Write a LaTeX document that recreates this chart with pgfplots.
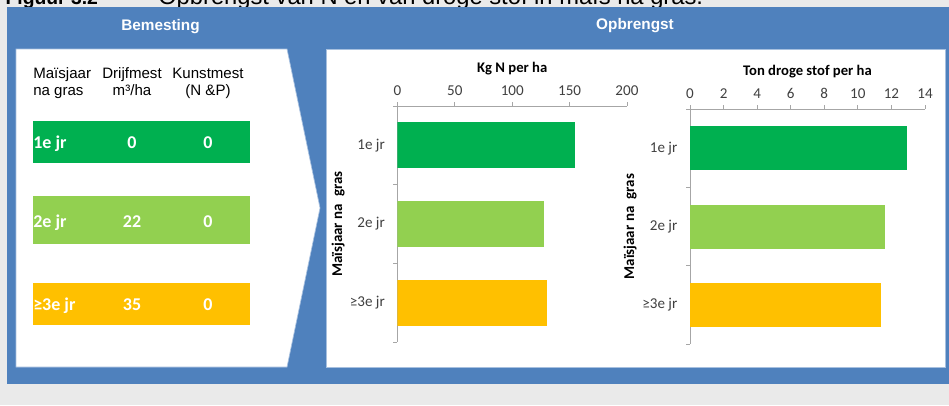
\documentclass[border=0pt]{standalone}
\usepackage{fontspec}
\setmainfont{Carlito}
\newfontfamily\arialf{Liberation Sans}
\usepackage{pgfplots}
\pgfplotsset{compat=1.18}

\definecolor{frameblue}{HTML}{4F81BD}
\definecolor{edgeblue}{HTML}{A7C0DF}
\definecolor{bggray}{HTML}{EAEAEA}
\definecolor{jr1}{HTML}{00B050}
\definecolor{jr2}{HTML}{92D050}
\definecolor{jr3}{HTML}{FFC000}
\definecolor{axgray}{HTML}{A6A6A6}
\definecolor{txt}{HTML}{404040}

% common look of the two bar charts
\pgfplotsset{opbr/.style={
    scale only axis,
    xbar, bar shift=0pt,
    ymin=-0.5, ymax=2.5, y dir=reverse,
    ytick={-0.5,0.5,1.5,2.5}, yticklabels={},
    extra y ticks={0,1,2},
    extra y tick labels={1e jr,2e jr,≥3e jr},
    extra y tick style={tick style={draw=none}},
    axis x line*=top, axis y line*=left,
    axis line style={draw=axgray,-,line width=0.6pt},
    tick align=outside,
    major tick length=3pt,
    tick style={draw=axgray, line width=0.6pt},
    tick label style={font=\fontsize{11.3}{13}\selectfont, text=txt},
    x tick label style={yshift=1.5pt},
    y tick label style={xshift=-3pt},
    /pgf/number format/assume math mode=true,
    title style={font=\bfseries\fontsize{11}{13}\selectfont, anchor=center},
    ylabel style={font=\bfseries\fontsize{11.2}{13}\selectfont, anchor=center},
}}

\begin{document}
\begin{tikzpicture}
\fill[bggray] (0,0) rectangle (711.75pt,-303.75pt);

% caption, cut off at the top of the screenshot
\begin{scope}[overlay]
\node[anchor=base west, inner sep=0, font=\arialf\bfseries\fontsize{14.5}{17}\selectfont] at (4pt,-3pt) {Figuur 3.2};
\node[anchor=base, inner sep=0, font=\arialf\fontsize{17.8}{20}\selectfont] at (96pt,-3pt) {–};
\node[anchor=base west, inner sep=0, font=\arialf\fontsize{17.8}{20}\selectfont] at (118.5pt,-3pt) {Opbrengst van N en van droge stof in maïs na gras.};
\end{scope}

\begin{scope}[x=0.75pt, y=-0.75pt]
  \fill[frameblue] (7,7) rectangle (949,384);
  \filldraw[fill=white, draw=edgeblue, line width=0.5pt]
    (16,49) -- (287,49) -- (320,208) -- (287,367) -- (16,367) -- cycle;
  \filldraw[fill=white, draw=edgeblue, line width=0.5pt] (326,49) rectangle (945,367);

  \node[anchor=base, inner sep=0, text=white, font=\arialf\bfseries\fontsize{11.5}{13}\selectfont] at (160.5,30) {Bemesting};
  \node[anchor=base, inner sep=0, text=white, font=\arialf\bfseries\fontsize{11.5}{13}\selectfont] at (635,29) {Opbrengst};

  % table headers
  \begin{scope}[every node/.style={inner sep=0, font=\arialf\fontsize{11.3}{13}\selectfont}]
    \node[anchor=base west] at (33,78) {Maïsjaar};
    \node[anchor=base west] at (33,95) {na gras};
    \node[anchor=base] at (132,78) {Drijfmest};
    \node[anchor=base] at (132,95) {m³/ha};
    \node[anchor=base] at (208,78) {Kunstmest};
    \node[anchor=base] at (208,95) {(N \&P)};
  \end{scope}

  % table rows
  \fill[jr1] (33,121) rectangle (250,163);
  \fill[jr2] (33,196) rectangle (250,244);
  \fill[jr3] (33,283) rectangle (250,325);
  \begin{scope}[every node/.style={inner sep=0, text=white, font=\bfseries\fontsize{13.5}{15}\selectfont}]
    \node[anchor=base west] at (33,148) {1e jr};
    \node[anchor=base] at (132,148) {0};
    \node[anchor=base] at (208,148) {0};
    \node[anchor=base west] at (33,227) {2e jr};
    \node[anchor=base] at (132,227) {22};
    \node[anchor=base] at (208,227) {0};
    \node[anchor=base west] at (33,310) {≥3e jr};
    \node[anchor=base] at (132,310) {35};
    \node[anchor=base] at (208,310) {0};
  \end{scope}
\end{scope}

% Kg N per ha
\begin{axis}[opbr,
    at={(298.1pt,-79.5pt)}, anchor=north west,
    width=172.1pt, height=177pt,
    bar width=34.5pt,
    xmin=0, xmax=200, xtick={0,50,...,200},
    title={Kg N per ha},
    title style={at={(axis description cs:0.5,1)}, yshift=21.75pt},
    ylabel={Maïsjaar na\enspace gras},
    ylabel style={at={(axis description cs:-0.259,0.5)}},
]
\addplot[fill=jr1, draw=none] coordinates {(155,0)};
\addplot[fill=jr2, draw=none] coordinates {(128,1)};
\addplot[fill=jr3, draw=none] coordinates {(130,2)};
\end{axis}

% Ton droge stof per ha
\begin{axis}[opbr,
    at={(517.5pt,-81.75pt)}, anchor=north west,
    width=176.25pt, height=176.25pt,
    bar width=33pt,
    xmin=0, xmax=14, xtick={0,2,...,14},
    title={Ton droge stof per ha},
    title style={at={(axis description cs:0.5,1)}, yshift=21.75pt},
    ylabel={Maïsjaar na\enspace gras},
    ylabel style={at={(axis description cs:-0.255,0.5)}},
]
\addplot[fill=jr1, draw=none] coordinates {(12.9,0)};
\addplot[fill=jr2, draw=none] coordinates {(11.6,1)};
\addplot[fill=jr3, draw=none] coordinates {(11.4,2)};
\end{axis}
\end{tikzpicture}
\end{document}
